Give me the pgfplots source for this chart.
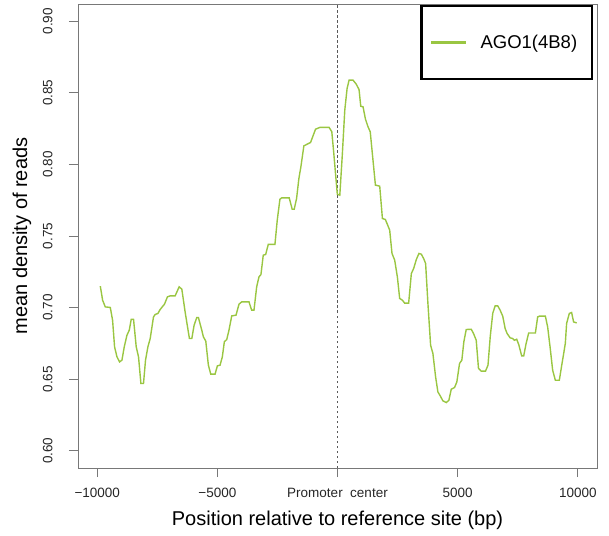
\documentclass[border=0pt]{standalone}
\usepackage{pgfplots}
\pgfplotsset{compat=1.18}
\usepackage{fontspec}
\setmainfont{Liberation Sans}
\definecolor{agogreen}{RGB}{154,198,66}
\definecolor{boxgray}{RGB}{120,120,120}

\begin{document}
\begin{tikzpicture}
\begin{axis}[
    scale only axis,
    width=519pt, height=464pt,
    xmin=-10800, xmax=10800,
    ymin=0.588, ymax=0.912,
    scaled x ticks=false,
    axis line style={boxgray, line width=0.8pt},
    tick style={boxgray, line width=0.8pt},
    tick align=outside,
    major tick length=9pt,
    xtick pos=bottom, ytick pos=left,
    xtick={-10000,-5000,0,5000,10000},
    xticklabels={−10000, −5000, Promoter\ \ center, 5000, 10000},
    ytick={0.60,0.65,0.70,0.75,0.80,0.85,0.90},
    yticklabels={0.60,0.65,0.70,0.75,0.80,0.85,0.90},
    ticklabel style={font=\fontsize{13.5}{15}\selectfont, text=black!85},
    yticklabel style={rotate=90, anchor=south},
    yticklabel shift=13pt,
    xticklabel shift=8pt,
    xlabel={Position relative to reference site (bp)},
    ylabel={mean density of reads},
    xlabel style={font=\fontsize{20}{22}\selectfont, at={(rel axis cs:0.5,-0.112)}, anchor=center},
    ylabel style={font=\fontsize{20}{22}\selectfont, at={(rel axis cs:-0.108,0.5)}, anchor=center},
    legend style={at={(rel axis cs:0.993,0.998)}, anchor=north east, draw=black,
        line width=2.4pt, inner xsep=8pt, inner ysep=27pt,
        font=\fontsize{18.5}{20}\selectfont, column sep=11pt},
    legend image code/.code={\draw[#1, line width=3pt] (0pt,0pt) -- (35pt,0pt);},
]
\addplot[black!65, line width=0.6pt, dash pattern=on 2.5pt off 2.5pt, forget plot]
    coordinates {(0,0.588) (0,0.912)};
\addplot[agogreen, line width=1.4pt] coordinates {
(-9872,0.7150) (-9776,0.7052) (-9664,0.7005) (-9456,0.7001) (-9361,0.6912)
(-9278,0.6726) (-9178,0.6656) (-9070,0.6621) (-8971,0.6633) (-8875,0.6726)
(-8763,0.6807) (-8667,0.6842) (-8584,0.6919) (-8489,0.6919) (-8377,0.6726)
(-8281,0.6656) (-8182,0.6470) (-8074,0.6470) (-7990,0.6633) (-7891,0.6726)
(-7795,0.6784) (-7658,0.6935) (-7588,0.6952) (-7475,0.6959) (-7380,0.6987)
(-7201,0.7024) (-7077,0.7075) (-6965,0.7082) (-6757,0.7082) (-6591,0.7145)
(-6479,0.7129) (-6342,0.6970) (-6163,0.6784) (-6063,0.6784) (-5968,0.6877)
(-5856,0.6931) (-5789,0.6931) (-5648,0.6842) (-5582,0.6796) (-5482,0.6766)
(-5374,0.6598) (-5274,0.6535) (-5096,0.6535) (-5000,0.6593) (-4888,0.6598)
(-4793,0.6656) (-4710,0.6761) (-4610,0.6777) (-4517,0.6842) (-4402,0.6942)
(-4224,0.6947) (-4099,0.7024) (-3987,0.7040) (-3684,0.7040) (-3572,0.6982)
(-3476,0.6982) (-3364,0.7145) (-3269,0.7214) (-3186,0.7231) (-3090,0.7366)
(-2990,0.7371) (-2882,0.7441) (-2604,0.7441) (-2508,0.7610) (-2396,0.7757)
(-2325,0.7766) (-2010,0.7766) (-1885,0.7687) (-1802,0.7687) (-1703,0.7762)
(-1607,0.7902) (-1524,0.7983) (-1400,0.8129) (-1287,0.8139) (-1121,0.8153)
(-914,0.8246) (-735,0.8258) (-349,0.8258) (-237,0.8228) (-154,0.8076)
(-71,0.7913) (-8,0.7792) (96,0.7785) (199,0.8064) (303,0.8379)
(399,0.8530) (482,0.8588) (648,0.8588) (781,0.8560) (897,0.8522)
(968,0.8406) (1063,0.8402) (1163,0.8316) (1271,0.8262) (1362,0.8228)
(1578,0.7855) (1757,0.7848) (1869,0.7622) (1993,0.7615) (2172,0.7541)
(2268,0.7378) (2380,0.7331) (2492,0.7214) (2587,0.7064) (2699,0.7052)
(2795,0.7031) (2961,0.7031) (3073,0.7238) (3169,0.7273) (3281,0.7336)
(3389,0.7378) (3489,0.7373) (3584,0.7343) (3667,0.7308) (3763,0.7029)
(3875,0.6737) (3970,0.6680) (4083,0.6516) (4178,0.6411) (4278,0.6383)
(4386,0.6349) (4527,0.6337) (4635,0.6353) (4734,0.6430) (4871,0.6442)
(4967,0.6481) (5079,0.6610) (5175,0.6633) (5258,0.6761) (5357,0.6847)
(5565,0.6849) (5661,0.6819) (5773,0.6772) (5868,0.6575) (5980,0.6556)
(6159,0.6556) (6263,0.6598) (6358,0.6800) (6462,0.6961) (6562,0.7012)
(6670,0.7012) (6769,0.6982) (6877,0.6940) (6977,0.6854) (7060,0.6819)
(7185,0.6789) (7293,0.6784) (7363,0.6772) (7459,0.6779) (7542,0.6742)
(7666,0.6663) (7750,0.6663) (7849,0.6749) (7957,0.6823) (8235,0.6823)
(8331,0.6935) (8402,0.6940) (8651,0.6940) (8746,0.6865) (8846,0.6726)
(8954,0.6563) (9066,0.6493) (9232,0.6493) (9344,0.6610) (9481,0.6749)
(9535,0.6889) (9647,0.6959) (9743,0.6966) (9826,0.6900) (9951,0.6893)
};
\addlegendentry{AGO1(4B8)\kern5pt\null}
\coordinate (bl) at (rel axis cs:0,0);
\coordinate (tr) at (rel axis cs:1,1);
\end{axis}
\pgfresetboundingbox
\path ([shift={(-78pt,-67pt)}]bl) rectangle ([shift={(12pt,4pt)}]tr);
\end{tikzpicture}
\end{document}
